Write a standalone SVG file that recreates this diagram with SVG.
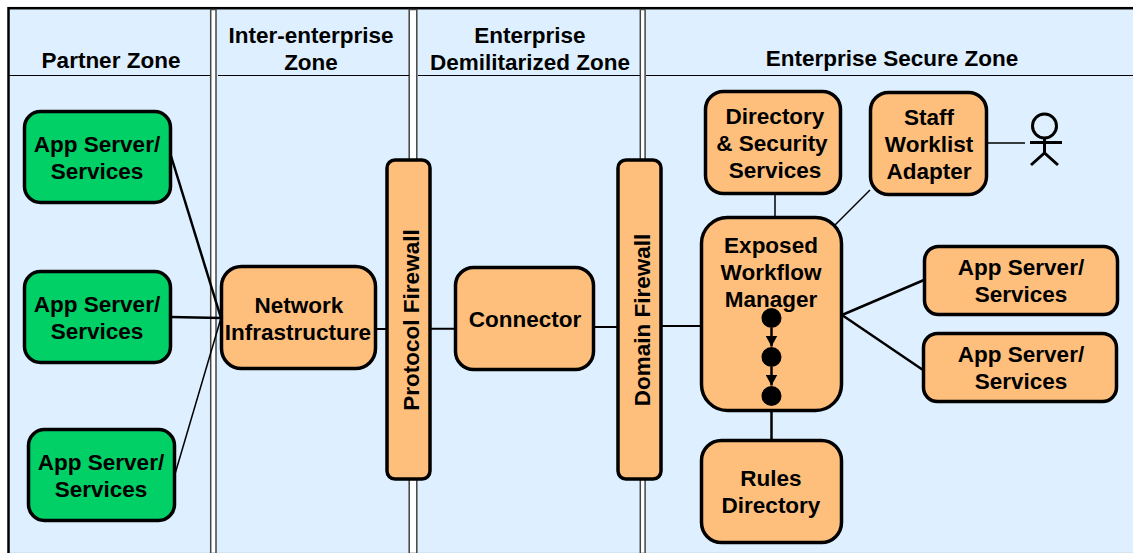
<svg xmlns="http://www.w3.org/2000/svg" width="1133" height="553" viewBox="0 0 1133 553">
<style>
text{font-family:"Liberation Sans",Arial,sans-serif;font-weight:700;font-size:22.500px;fill:#000;text-anchor:middle}
.g{fill:#00D066;stroke:#000;stroke-width:3.5}
.o{fill:#FFBF7C;stroke:#000;stroke-width:3.5}
.l{stroke:#000;fill:none}
.s{fill:#fff;stroke:#444;stroke-width:1.5}
</style>
<defs><marker id="arr" markerWidth="12" markerHeight="12" refX="11" refY="6" orient="auto" markerUnits="userSpaceOnUse"><path d="M0 0L11 6L0 12Z" fill="#000"/></marker></defs>
<rect x="0" y="0" width="1133" height="553" fill="#fff"/>
<g id="zones">
<rect x="8.500" y="8.200" width="1126" height="546" fill="#DEF0FF" stroke="#000" stroke-width="2.500"/>
<rect x="210.700" y="9.500" width="5.300" height="544" class="s"/>
<rect x="409.200" y="9.500" width="7.600" height="544" class="s"/>
<rect x="640.300" y="9.500" width="4.800" height="544" class="s"/>
<path class="l" stroke-width="1" d="M9 75.500H210M218 75.500H409M418 75.500H640M646 75.500H1133"/>
<text x="111" y="68">Partner Zone</text>
<text x="311" y="43">Inter-enterprise</text><text x="311" y="70">Zone</text>
<text x="530" y="43">Enterprise</text><text x="530" y="70">Demilitarized Zone</text>
<text x="892" y="66">Enterprise Secure Zone</text>
</g>
<g id="connectors">
<path class="l" stroke-width="2.500" d="M171 156L221 318"/>
<path class="l" stroke-width="2.500" d="M171 317L221 318"/>
<path class="l" stroke-width="1.500" d="M175 474L221 318"/>
<path class="l" stroke-width="2" d="M376 329H386M431 328.700H455M594 327H617M660 326H701"/>
<path class="l" stroke-width="1.500" d="M775 193V217M870 190L835 225M987 143H1025"/>
<path class="l" stroke-width="2.500" d="M842 315L924 280M842 315L923 370M771.500 411V440"/>
</g>
<g id="app1"><rect class="g" x="24.500" y="111.500" width="146" height="91" rx="16"/><text x="97" y="152">App Server/</text><text x="97" y="179">Services</text></g>
<g id="app2"><rect class="g" x="24.500" y="271.500" width="146" height="91" rx="16"/><text x="97" y="312">App Server/</text><text x="97" y="339">Services</text></g>
<g id="app3"><rect class="g" x="28.500" y="429.500" width="146" height="91" rx="16"/><text x="101" y="470">App Server/</text><text x="101" y="497">Services</text></g>
<g id="network"><rect class="o" x="221.500" y="266.500" width="154" height="102" rx="20"/><text x="299" y="313">Network</text><text x="298" y="340">Infrastructure</text></g>
<g id="protocol-firewall"><rect class="o" x="387" y="160" width="43" height="319" rx="8"/><text transform="translate(418.500 320) rotate(-90)">Protocol Firewall</text></g>
<g id="connector"><rect class="o" x="455.500" y="267.500" width="138" height="102" rx="18"/><text x="525" y="327">Connector</text></g>
<g id="domain-firewall"><rect class="o" x="618" y="160" width="43" height="319" rx="8"/><text transform="translate(649.500 320) rotate(-90)">Domain Firewall</text></g>
<g id="directory"><rect class="o" x="705.500" y="91.500" width="135" height="102" rx="18"/><text x="775" y="124">Directory</text><text x="772" y="151">&amp; Security</text><text x="775" y="178">Services</text></g>
<g id="staff"><rect class="o" x="870.500" y="92.500" width="116" height="102" rx="18"/><text x="929" y="125">Staff</text><text x="929" y="152">Worklist</text><text x="929" y="179">Adapter</text></g>
<g id="actor"><circle cx="1044.500" cy="126" r="12" fill="none" stroke="#000" stroke-width="3"/><path class="l" stroke-width="3" d="M1044.500 138V153M1030 142.500H1062M1031 165L1044.500 153L1058 165"/></g>
<g id="workflow"><rect class="o" x="701.500" y="217.500" width="140" height="193" rx="26"/><text x="771" y="253">Exposed</text><text x="771" y="280">Workflow</text><text x="771" y="307">Manager</text>
<circle cx="771.500" cy="318" r="10"/><circle cx="771.500" cy="357" r="10"/><circle cx="771.500" cy="396" r="10"/>
<path class="l" stroke-width="2.500" marker-end="url(#arr)" d="M771.500 328V346.500"/><path class="l" stroke-width="2.500" marker-end="url(#arr)" d="M771.500 367V385.500"/></g>
<g id="rules"><rect class="o" x="701.500" y="440.500" width="140" height="102" rx="20"/><text x="771" y="486">Rules</text><text x="771" y="513">Directory</text></g>
<g id="app4"><rect class="o" x="924.500" y="246.500" width="193" height="68" rx="14"/><text x="1021" y="275">App Server/</text><text x="1021" y="302">Services</text></g>
<g id="app5"><rect class="o" x="923.500" y="333.500" width="193" height="68" rx="14"/><text x="1021" y="362">App Server/</text><text x="1021" y="389">Services</text></g>
</svg>
